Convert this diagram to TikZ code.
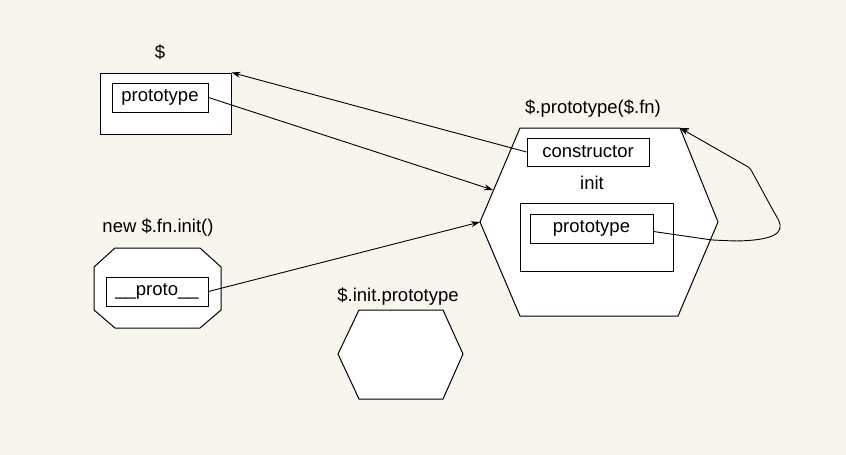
\documentclass[tikz,border=0pt]{standalone}
\usepackage{fontspec}
\setmainfont{Liberation Sans}
\usetikzlibrary{arrows.meta}
\definecolor{bgcol}{HTML}{F8F5EE}
\begin{document}
\begin{tikzpicture}[x=1pt,y=-1pt,
  every node/.style={font=\fontsize{18.5}{20}\selectfont, inner sep=0pt},
  box/.style={draw=black, line width=1pt, fill=white, rectangle},
  lbl/.style={text=black},
  shapeline/.style={draw=black, line width=1pt, fill=white, line join=miter},
  conn/.style={draw=black, line width=0.9pt, -{Stealth[length=9pt,width=6pt]}}]
  % background
  \fill[bgcol] (0,0) rectangle (846,455);
  \useasboundingbox (0,0) rectangle (846,455);

  % ---- $ object
  \node[lbl] (dollarlbl) at (160,52) {\$};
  \node[box, minimum width=131pt, minimum height=61pt] (dollarbox) at (165.5,103.5) {};
  \node[box, minimum width=96pt, minimum height=29pt] (dproto) at (160,97.5) {prototype};

  % ---- big hexagon $.prototype($.fn)
  \coordinate (hTL) at (520,128);
  \coordinate (hTR) at (680,128);
  \coordinate (hR) at (718,222);
  \coordinate (hBR) at (678,316);
  \coordinate (hBL) at (520,316);
  \coordinate (hL) at (480,222);
  \draw[shapeline] (hTL) -- (hTR) -- (hR) -- (hBR) -- (hBL) -- (hL) -- cycle;
  \draw[line width=1pt] (hTR) -- ++(9,0);
  \node[lbl] (fnlbl) at (593,109) {\$.prototype(\$.fn)};
  \node[box, minimum width=122pt, minimum height=28pt] (ctor) at (588,152) {constructor};
  \node[lbl] (initlbl) at (592,183) {init};
  \node[box, minimum width=153pt, minimum height=68pt] (initbox) at (596.5,237) {};
  \node[box, minimum width=123pt, minimum height=29pt] (iproto) at (591.5,228.5) {prototype};
  \coordinate (hLin) at (493,190);

  % ---- octagon new $.fn.init()
  \draw[shapeline] (115,248) -- (200,248) -- (221,267) -- (221,310) -- (200,328)
    -- (115,328) -- (94,310) -- (94,267) -- cycle;
  \node[lbl] (newlbl) at (158,228) {new \$.fn.init()};
  \node[box, minimum width=102pt, minimum height=29pt] (proto) at (157,291.5) {\_\_proto\_\_};

  % ---- small hexagon $.init.prototype
  \draw[shapeline] (359,310) -- (443,310) -- (463,354) -- (443,399) -- (359,399) -- (338,354) -- cycle;
  \node[lbl] (initprotolbl) at (398,297) {\$.init.prototype};

  % ---- connectors
  \draw[conn] (ctor.west) -- (dollarbox.north east);
  \draw[conn] (dproto.east) -- (hLin);
  \draw[conn] (proto.east) -- (hL);
  \coordinate (c1) at (712,240);
  \coordinate (c2) at (735,241);
  \coordinate (c3) at (775,214);
  \coordinate (c4) at (750,168);
  \draw[conn, rounded corners=2pt] ([yshift=-3pt]iproto.east) -- (c1) -- (c2)
    .. controls (785,240) and (784,228) .. (c3) -- (c4) -- (hTR);
\end{tikzpicture}
\end{document}
